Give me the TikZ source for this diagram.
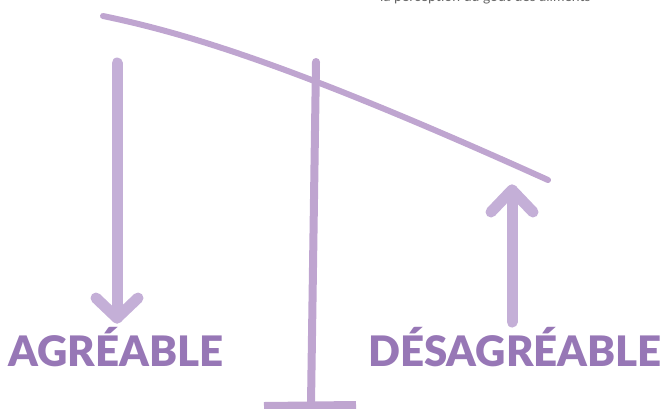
\documentclass[tikz,border=0pt]{standalone}
\usepackage{fontspec}
\setmainfont{Lato}
\newfontfamily\heavyface{Lato Black}
\begin{document}
\begin{tikzpicture}[x=1pt,y=-1pt,
  stroke/.style={draw=lineviolet,line cap=round,line join=round},
  label/.style={text=textviolet,font=\heavyface\fontsize{42}{42}\selectfont,anchor=base,inner sep=0pt}]
\definecolor{lineviolet}{HTML}{C4AFD7}
\definecolor{beamviolet}{HTML}{BFA5D0}
\definecolor{textviolet}{HTML}{9777B6}
\definecolor{captiongray}{HTML}{666666}
\useasboundingbox (0,0) rectangle (663,408);
\clip (0,0) rectangle (663,408);

% caption line, running off the top edge
\node[anchor=base west,inner sep=0pt,text=captiongray,font=\fontsize{14}{14}\selectfont] (cap) at (380,1.5) {la perception du goût des aliments};

% points of the balance
\coordinate (beamL) at (103,16);
\coordinate (beamR) at (548,180);
\coordinate (postT) at (316,62);
\coordinate (postB) at (311,404);
\coordinate (baseL) at (264,406);
\coordinate (baseR) at (356,405);
\coordinate (aTop) at (117,63);
\coordinate (aTip) at (117,318);
\coordinate (bBot) at (512,322);
\coordinate (bTip) at (512,190);

% post and foot
\draw[stroke,draw=beamviolet,line width=8pt] (postT) -- (postB);
\draw[stroke,draw=beamviolet,line width=8pt,line cap=butt] (baseL) -- (baseR);

% tilted beam
\draw[stroke,draw=beamviolet,line width=6pt] (beamL) .. controls (190,34) and (300,68) .. (beamR);

% arrow down to the left label
\draw[stroke,line width=11pt] (aTop) -- (aTip);
\draw[stroke,line width=11pt] (96,298) -- (aTip) -- (138,298);

% arrow up from the right label
\draw[stroke,line width=11pt] (bBot) -- (bTip);
\draw[stroke,line width=11pt] (491,212) -- (bTip) -- (533,212);

% labels
\node[label] (agr) at (116,366) {AGRÉABLE};
\node[label] (des) at (515,366) {DÉSAGRÉABLE};
\end{tikzpicture}
\end{document}
